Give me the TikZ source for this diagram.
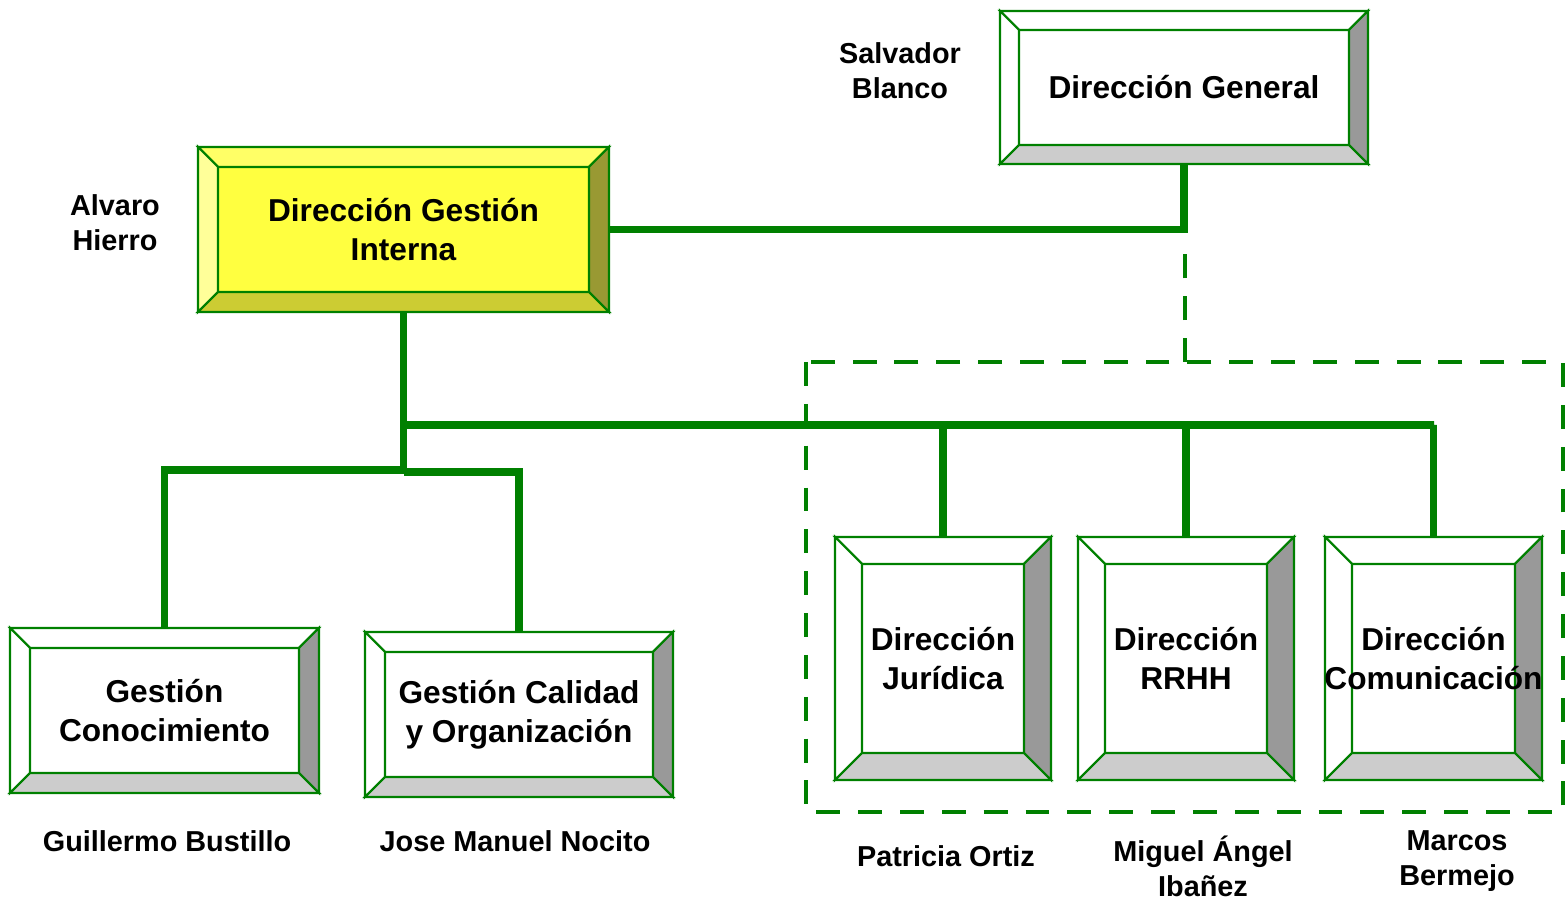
\documentclass[tikz,border=0pt]{standalone}
\usepackage{fontspec}
\setmainfont{Liberation Sans}
\usetikzlibrary{backgrounds}
\definecolor{lineg}{HTML}{008000}
\definecolor{wface}{HTML}{FFFFFF}
\definecolor{wtop}{HTML}{FFFFFF}
\definecolor{wleft}{HTML}{FFFFFF}
\definecolor{wright}{HTML}{999999}
\definecolor{wbot}{HTML}{CCCCCC}
\definecolor{yface}{HTML}{FFFF40}
\definecolor{ytop}{HTML}{FFFF66}
\definecolor{yleft}{HTML}{FFFF99}
\definecolor{yright}{HTML}{999933}
\definecolor{ybot}{HTML}{CCCC33}
\tikzset{
  face/.style={draw=lineg, line width=0.6pt, inner sep=0pt, outer sep=0pt},
  bevel/.style={draw=lineg, line width=0.6pt},
  boxtext/.style={align=center, font=\fontsize{9}{11.2}\selectfont\bfseries},
  person/.style={align=center, font=\fontsize{8.2}{10}\selectfont\bfseries},
  conn/.style={draw=lineg, line width=2pt},
  grp/.style={draw=lineg, line width=1.4pt, dash pattern=on 6.8pt off 5.1pt}
}
\newcommand{\bevbox}[7]{%
  \node[face, fill=#6face, minimum width=#3*0.01cm, minimum height=#4*0.01cm] (#1) at #2 {};
  \filldraw[bevel, fill=#6top] (#1.north west) -- ++(-#5,-#5) -- ++({#3+2*#5},0) -- (#1.north east) -- cycle;
  \filldraw[bevel, fill=#6bot] (#1.south west) -- ++(-#5,#5) -- ++({#3+2*#5},0) -- (#1.south east) -- cycle;
  \filldraw[bevel, fill=#6left] (#1.north west) -- ++(-#5,-#5) -- ++(0,{#4+2*#5}) -- (#1.south west) -- cycle;
  \filldraw[bevel, fill=#6right] (#1.north east) -- ++(#5,-#5) -- ++(0,{#4+2*#5}) -- (#1.south east) -- cycle;
  \node[boxtext] at (#1) {#7};
}
\begin{document}
\begin{tikzpicture}[x=0.01cm, y=-0.01cm]
      \useasboundingbox (0, 0) rectangle (1565, 901);

      \bevbox{dg}{(1184, 87.5)}{330}{115}{19}{w}{Dirección General}
      \bevbox{dgi}{(403.5, 229.5)}{371}{125}{20}{y}{Dirección Gestión\\Interna}
      \bevbox{gcon}{(164.5, 710.5)}{269}{125}{20}{w}{Gestión\\Conocimiento}
      \bevbox{gcal}{(519, 714.5)}{268}{125}{20}{w}{Gestión Calidad\\y Organización}
      \bevbox{jur}{(943, 658.5)}{162}{189}{27}{w}{Dirección\\Jurídica}
      \bevbox{rrhh}{(1186, 658.5)}{162}{189}{27}{w}{Dirección\\RRHH}
      \bevbox{com}{(1433.5, 658.5)}{163}{189}{27}{w}{Dirección\\Comunicación}

      \coordinate (bus) at (1434, 425);
      \coordinate (lsplit) at (164, 470);
      \coordinate (rsplit) at (519, 472);
      \coordinate (grpnw) at (806, 362);
      \coordinate (grpse) at (1563, 812);
      \coordinate (dashtop) at (1185, 247);

      \begin{scope}[on background layer]
      \draw[conn](dg) |- (dgi);
      \draw[conn](dgi) |- (bus) -| (com);
      \draw[conn](jur) -- (jur |- bus);
      \draw[conn](rrhh) -- (rrhh |- bus);
      \draw[conn](dgi) -- (dgi |- lsplit) -| (gcon);
      \draw[conn](dgi |- rsplit) -| (gcal);
      \end{scope}

      \draw[grp](grpnw) rectangle (grpse);
      \draw[grp](dashtop |- grpnw) -- (dashtop);

      \node[person] at(900, 71)(sblanco){Salvador\\Blanco};
      \node[person] at(115, 223)(ahierro){Alvaro\\Hierro};
      \node[person] at(167, 841)(gbustillo){Guillermo Bustillo};
      \node[person] at(515, 841)(jmnocito){Jose Manuel Nocito};
      \node[person] at(946, 856)(portiz){Patricia Ortiz};
      \node[person] at(1203, 866)(maibanez){Miguel Ángel\\Ibañez};
      \node[person] at(1457, 861)(mbermejo){Marcos\\Bermejo};
\end{tikzpicture}
\end{document}
